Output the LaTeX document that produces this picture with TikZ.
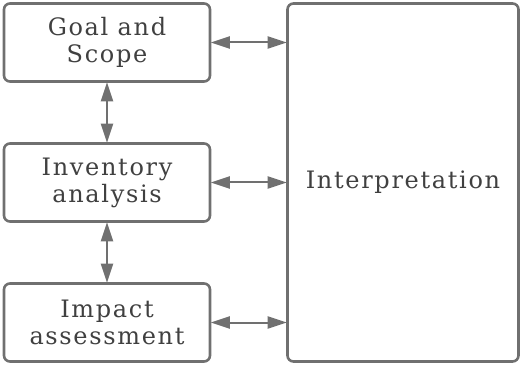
\documentclass[tikz,border=0pt]{standalone}
\usepackage{fontspec}
\setmainfont[LetterSpace=7]{DejaVu Serif}
\usetikzlibrary{arrows.meta}
\definecolor{boxgray}{RGB}{112,112,112}
\definecolor{textgray}{RGB}{64,64,64}

\begin{document}
\begin{tikzpicture}[x=1pt,y=-1pt,
  stage/.style={draw=boxgray,line width=2.6pt,rounded corners=6pt,minimum width=206pt,minimum height=78pt,align=center,text=textgray,font=\fontsize{24}{27}\selectfont},
  link/.style={{Triangle[length=19pt,width=12pt]}-{Triangle[length=19pt,width=12pt]},boxgray,line width=2pt,shorten <=-0.5pt,shorten >=-0.5pt}]
  \useasboundingbox (0,0) rectangle (522,366);
  \node[stage] (goal) at (107,42.5) {Goal and\\Scope};
  \node[stage] (inventory) at (107,182.5) {Inventory\\analysis};
  \node[stage] (impact) at (107,322.5) {Impact\\assessment};
  \node[stage,minimum width=231pt,minimum height=358pt] (interp) at (403,182.5) {Interpretation};
  \draw[link] (goal.south) -- (inventory.north);
  \draw[link] (inventory.south) -- (impact.north);
  \draw[link] (goal.east) -- (goal.east -| interp.west);
  \draw[link] (inventory.east) -- (inventory.east -| interp.west);
  \draw[link] (impact.east) -- (impact.east -| interp.west);
\end{tikzpicture}
\end{document}
